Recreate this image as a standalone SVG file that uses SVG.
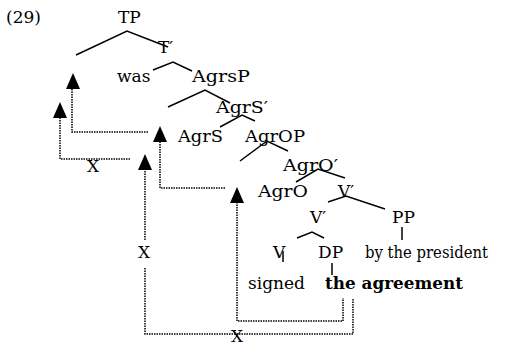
<svg xmlns="http://www.w3.org/2000/svg" width="513" height="345" viewBox="0 0 513 345">
<style>
text{font-family:'DejaVu Serif',serif;font-size:17px;fill:#000}
.b{font-weight:bold}
.t{fill:none;stroke:#000;stroke-width:1.5}
.d{fill:none;stroke:#000;stroke-width:1.5;stroke-dasharray:1.5 1}
.a{fill:#000}
</style>
<rect width="513" height="345" fill="#fff"/>
<text x="6" y="23">(29)</text>
<g id="TP"><text x="118" y="23">TP</text></g>
<g id="Tbar"><text x="158" y="53">T′</text></g>
<g id="was"><text x="117" y="82">was</text></g>
<g id="AgrsP"><text x="192" y="82" textLength="58" lengthAdjust="spacingAndGlyphs">AgrsP</text></g>
<g id="AgrSbar"><text x="216" y="113" textLength="52" lengthAdjust="spacingAndGlyphs">AgrS′</text></g>
<g id="AgrS"><text x="178" y="142" textLength="45" lengthAdjust="spacingAndGlyphs">AgrS</text></g>
<g id="AgrOP"><text x="245" y="142" textLength="60" lengthAdjust="spacingAndGlyphs">AgrOP</text></g>
<g id="AgrObar"><text x="283" y="171" textLength="55" lengthAdjust="spacingAndGlyphs">AgrO′</text></g>
<g id="AgrO"><text x="258" y="197" textLength="50" lengthAdjust="spacingAndGlyphs">AgrO</text></g>
<g id="Vbar1"><text x="338" y="197">V′</text></g>
<g id="Vbar2"><text x="310" y="223">V′</text></g>
<g id="PP"><text x="392" y="223">PP</text></g>
<g id="V"><text x="273" y="258">V</text></g>
<g id="DP"><text x="318" y="258">DP</text></g>
<g id="byPres"><text x="365" y="258" textLength="123" lengthAdjust="spacingAndGlyphs">by the president</text></g>
<g id="signed"><text x="248" y="289">signed</text></g>
<g id="agreement"><text class="b" x="325" y="289" textLength="138" lengthAdjust="spacingAndGlyphs">the agreement</text></g>
<g id="X1"><text x="87" y="172">X</text></g>
<g id="X2"><text x="138" y="258">X</text></g>
<g id="X3"><text x="231" y="342">X</text></g>
<g id="connectors">
<polyline class="t" points="76,55 127,31 168,47"/>
<polyline class="t" points="153,70 173,62 192,71"/>
<polyline class="t" points="168,107 205,90 230,103"/>
<polyline class="t" points="220,127 242,115 255,121"/>
<polyline class="t" points="240,161 267,141 288,151"/>
<polyline class="t" points="296,182 318,169 345,178"/>
<polyline class="t" points="328,202 346,196 385,209"/>
<polyline class="t" points="297,238 312,232 324,238"/>
<line class="t" x1="402" y1="227" x2="402" y2="240"/>
<line class="t" x1="283" y1="251" x2="283" y2="262"/>
<line class="t" x1="332" y1="263" x2="332" y2="275"/>
<polyline class="d" points="148,132 72,132 72,88"/>
<polyline class="d" points="130,159 60,159 60,116"/>
<polyline class="d" points="225,188 160,188 160,141"/>
<polyline class="d" points="145,240 145,169"/>
<polyline class="d" points="145,268 145,334 353,334 353,299"/>
<polyline class="d" points="237,202 237,321 343,321 343,298"/>
<polygon class="a" points="73,73 66,89 80,89"/>
<polygon class="a" points="60,102 53,118 67,118"/>
<polygon class="a" points="160,126 153,142 167,142"/>
<polygon class="a" points="145,154 138,170 152,170"/>
<polygon class="a" points="237,187 230,203 244,203"/>
</g>
</svg>
